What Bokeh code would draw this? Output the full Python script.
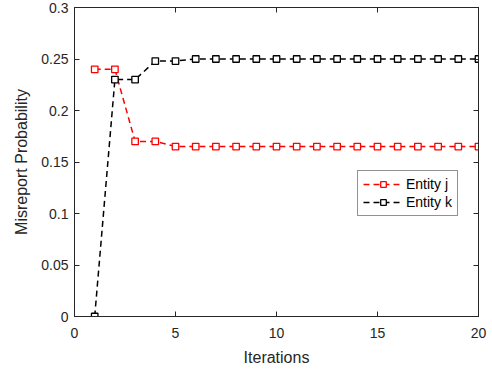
from bokeh.plotting import figure
from bokeh.models import LinearAxis, Range1d, Legend, LegendItem, FixedTicker
from bokeh.embed import file_html
from bokeh.resources import INLINE

iterations = list(range(1, 21))
entity_j = [0.24, 0.24, 0.17, 0.17] + [0.165] * 16
entity_k = [0.0, 0.23, 0.23, 0.248, 0.248] + [0.25] * 15
x_ticks = [0, 5, 10, 15, 20]
y_ticks = [0, 0.05, 0.1, 0.15, 0.2, 0.25, 0.3]

FONT = "Liberation Sans"
AX = "#262626"

p = figure(width=476, height=360, output_backend="svg", toolbar_location=None,
           x_range=Range1d(0, 20), y_range=Range1d(0, 0.3),
           min_border_left=74, min_border_right=10, min_border_top=7, min_border_bottom=50)
p.frame_width = 404
p.frame_height = 309
p.xgrid.visible = False
p.ygrid.visible = False
p.outline_line_color = AX
p.outline_line_width = 1
p.background_fill_color = "white"
p.border_fill_color = "white"

p.xaxis.ticker = FixedTicker(ticks=x_ticks)
p.yaxis.ticker = FixedTicker(ticks=y_ticks)
p.yaxis.major_label_overrides = {0: "0", 0.05: "0.05", 0.1: "0.1", 0.15: "0.15",
                                 0.2: "0.2", 0.25: "0.25", 0.3: "0.3"}
for ax in (p.xaxis[0], p.yaxis[0]):
    ax.major_tick_in = 5
    ax.major_tick_out = 0
    ax.minor_tick_in = 0
    ax.minor_tick_out = 0
    ax.axis_line_color = AX
    ax.major_tick_line_color = AX
    ax.major_label_text_color = AX
    ax.major_label_text_font = FONT
    ax.major_label_text_font_size = "14px"
    ax.axis_label_text_font = FONT
    ax.axis_label_text_font_size = "16px"
    ax.axis_label_text_font_style = "normal"
    ax.axis_label_text_color = AX
p.xaxis.axis_label = "Iterations"
p.yaxis.axis_label = "Misreport Probability"
p.xaxis.major_label_standoff = 11
p.yaxis.major_label_standoff = 6
p.xaxis.axis_label_standoff = 8
p.yaxis.axis_label_standoff = 8

# mirrored ticks on right/top (no labels)
ra = LinearAxis(ticker=FixedTicker(ticks=y_ticks), major_tick_in=5, major_tick_out=0,
                minor_tick_in=0, minor_tick_out=0,
                major_label_overrides={t: "" for t in y_ticks},
                major_label_standoff=0, axis_line_color=AX, major_tick_line_color=AX)
p.add_layout(ra, "right")
ta = LinearAxis(ticker=FixedTicker(ticks=x_ticks), major_tick_in=5, major_tick_out=0,
                minor_tick_in=0, minor_tick_out=0,
                major_label_overrides={t: "" for t in x_ticks},
                major_label_standoff=0, axis_line_color=AX, major_tick_line_color=AX)
p.add_layout(ta, "above")

lj = p.line(iterations, entity_j, line_color="#ff0000", line_width=1.5, line_dash="6 4")
mj = p.scatter(iterations, entity_j, marker="square", size=6.5, line_color="#ff0000",
               fill_color="white", line_width=1.3)
lk = p.line(iterations, entity_k, line_color="#000000", line_width=1.5, line_dash="6 4")
mk = p.scatter(iterations, entity_k, marker="square", size=6.5, line_color="#000000",
               fill_color="white", line_width=1.3)

legend = Legend(items=[LegendItem(label="Entity j", renderers=[lj, mj]),
                       LegendItem(label="Entity k", renderers=[lk, mk])],
                location=(283, 100))
legend.label_text_font = FONT
legend.label_text_font_size = "14px"
legend.label_text_color = "black"
legend.border_line_color = AX
legend.border_line_width = 1
legend.glyph_width = 40
legend.glyph_height = 14
legend.label_standoff = 3
legend.padding = 5
legend.spacing = 2
legend.margin = 0
legend.label_height = 16
p.add_layout(legend)

open("out.html", "w").write(file_html(p, INLINE))
